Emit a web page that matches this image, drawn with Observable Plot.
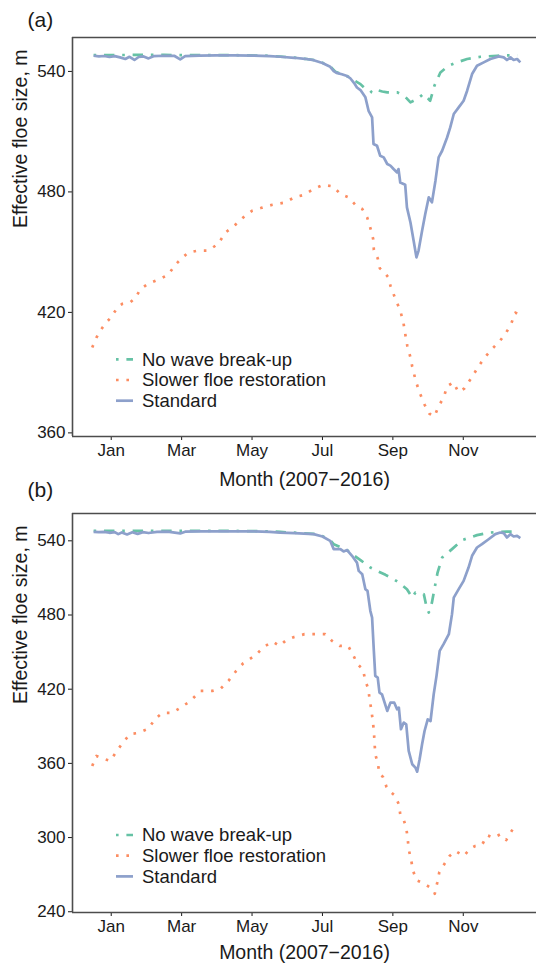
<!DOCTYPE html>
<html>
<head>
<meta charset="utf-8">
<script src="https://cdn.jsdelivr.net/npm/d3@7"></script>
<script src="https://cdn.jsdelivr.net/npm/@observablehq/plot@0.6"></script>
<style>
  html, body { margin: 0; padding: 0; background: #fff; }
  #chart { width: 536px; height: 964px; overflow: hidden; }
  #chart svg { display: block; }
  #chart svg text { font-family: "Liberation Sans", Arial, sans-serif !important; }
</style>
</head>
<body>
<div id="chart"></div>
<script>
// Month axis: x is measured in months (1 = Jan tick, 3 = Mar tick, ...)
const monthTicks = [1, 3, 5, 7, 9, 11];
const monthNames = ["Jan", "Mar", "May", "Jul", "Sep", "Nov"];

const seriesNames = ["No wave break-up", "Slower floe restoration", "Standard"];
const seriesColors = ["#66c2a5", "#fc8d62", "#8da0cb"];

const ticksA = [360, 420, 480, 540];
const ticksB = [240, 300, 360, 420, 480, 540];

// Panel (a): effective floe size [month, metres]
const noWaveA = [
  [0.50,548.1],[1.50,548.2],[2.50,548.2],[3.50,548.1],[4.50,548.1],[5.50,547.8],[5.80,547.4],
  [6.20,546.9],[6.50,546.3],[6.75,545.7],[7.00,544.3],[7.22,542.5],[7.37,539.8],[7.65,538.0],
  [7.79,537.0],[7.90,535.5],[8.08,533.7],[8.20,531.6],[8.31,531.2],[8.40,529.6],[8.45,529.2],
  [8.55,530.7],[8.70,530.0],[8.84,529.6],[9.12,529.6],[9.26,528.4],[9.40,526.5],[9.50,524.6],
  [9.69,526.3],[9.87,528.8],[10.06,525.4],[10.18,532.9],[10.35,539.5],[10.58,542.8],[10.82,544.5],
  [11.11,546.2],[11.49,547.3],[11.96,547.8],[12.20,548.0],[12.54,548.1]
];
const slowerA = [
  [0.46,402.5],[0.58,407.4],[0.69,411.0],[0.86,415.0],[0.97,417.0],[1.20,423.0],[1.32,424.3],
  [1.54,425.0],[1.69,427.3],[1.83,431.6],[2.05,434.3],[2.40,436.8],[2.62,438.8],[2.82,443.7],
  [3.02,447.3],[3.19,449.8],[3.47,450.8],[3.76,450.8],[4.04,454.2],[4.24,459.7],[4.53,463.7],
  [4.81,468.2],[5.01,470.7],[5.29,472.2],[5.58,473.6],[5.95,474.8],[6.20,477.3],[6.49,478.6],
  [6.75,481.5],[7.02,483.5],[7.29,482.8],[7.51,479.0],[7.74,477.3],[7.96,473.1],[8.13,471.5],
  [8.27,467.3],[8.36,462.1],[8.44,456.6],[8.46,451.1],[8.57,446.9],[8.63,442.0],[8.74,440.3],
  [8.88,437.2],[8.93,433.3],[9.07,426.8],[9.21,420.9],[9.30,414.9],[9.36,408.4],[9.41,403.4],
  [9.50,397.5],[9.55,393.0],[9.65,386.0],[9.75,380.5],[9.90,374.1],[10.04,369.5],[10.18,368.2],
  [10.30,373.3],[10.45,377.9],[10.54,383.2],[10.72,385.2],[10.86,380.4],[11.03,382.1],[11.26,388.1],
  [11.43,393.1],[11.63,398.0],[11.83,402.0],[12.05,406.0],[12.20,409.5],[12.34,413.4],[12.48,419.9],
  [12.62,418.4]
];
const standardA = [
  [0.50,547.8],[0.65,547.5],[0.80,547.7],[0.95,547.2],[1.10,547.6],[1.25,547.0],[1.40,546.2],
  [1.52,547.3],[1.66,545.7],[1.78,547.2],[1.92,547.5],[2.06,546.5],[2.20,547.6],[2.50,547.8],
  [2.80,547.7],[2.96,546.0],[3.10,547.6],[3.50,547.9],[4.00,548.0],[4.50,548.0],[5.00,547.9],
  [5.50,547.6],[5.80,547.3],[6.20,546.8],[6.50,546.3],[6.75,545.6],[7.00,544.2],[7.22,542.3],
  [7.32,540.2],[7.40,539.3],[7.55,538.6],[7.70,537.7],[7.79,536.6],[7.90,534.2],[7.98,532.0],
  [8.08,530.7],[8.22,527.1],[8.31,520.4],[8.41,517.1],[8.45,503.9],[8.55,503.0],[8.64,498.0],
  [8.74,497.2],[8.84,493.9],[8.93,493.1],[9.02,491.4],[9.12,489.7],[9.16,491.4],[9.21,484.7],
  [9.35,483.6],[9.40,472.3],[9.50,464.8],[9.59,455.7],[9.67,447.4],[9.73,450.8],[9.83,460.7],
  [9.92,469.0],[10.02,477.3],[10.11,474.8],[10.21,485.6],[10.30,497.2],[10.40,500.5],[10.54,507.1],
  [10.63,512.1],[10.73,518.8],[10.87,522.1],[11.01,525.4],[11.11,530.4],[11.25,538.7],[11.39,542.8],
  [11.58,544.5],[11.77,546.2],[12.01,547.5],[12.15,547.0],[12.24,545.7],[12.34,547.0],[12.43,545.7],
  [12.53,546.2],[12.62,544.5]
];

// Panel (b)
const noWaveB = [
  [0.50,548.0],[1.50,548.1],[2.50,548.1],[3.50,548.0],[4.50,548.0],[5.50,547.7],[5.80,547.2],
  [6.20,546.6],[6.75,545.6],[7.00,543.8],[7.22,540.5],[7.32,537.3],[7.70,532.5],[7.84,529.2],
  [8.08,524.4],[8.36,518.4],[8.55,515.7],[8.79,512.5],[9.02,509.0],[9.17,506.3],[9.40,500.9],
  [9.55,494.1],[9.64,498.2],[9.88,496.8],[9.94,488.7],[10.02,482.0],[10.11,490.1],[10.18,500.9],
  [10.27,514.3],[10.40,526.5],[10.68,533.3],[10.97,540.6],[11.39,544.6],[11.77,546.7],[12.24,547.5],
  [12.57,547.5]
];
const slowerB = [
  [0.46,357.9],[0.58,366.0],[0.75,364.0],[0.97,362.0],[1.20,371.7],[1.37,378.2],[1.54,383.8],
  [1.77,384.6],[2.05,387.9],[2.25,396.0],[2.45,400.8],[2.73,400.8],[2.96,404.9],[3.25,410.5],
  [3.53,418.6],[3.87,418.6],[4.10,420.2],[4.33,426.7],[4.55,434.8],[4.75,441.0],[4.90,443.7],
  [5.11,447.7],[5.33,454.2],[5.59,458.5],[5.78,455.0],[5.97,459.6],[6.20,462.3],[6.49,464.5],
  [6.80,464.5],[7.08,464.5],[7.27,459.1],[7.49,455.0],[7.73,455.0],[7.87,447.7],[8.00,440.2],
  [8.15,436.1],[8.22,426.7],[8.30,420.5],[8.34,411.9],[8.39,403.0],[8.43,394.3],[8.46,386.2],
  [8.48,376.8],[8.50,367.4],[8.57,360.6],[8.62,351.7],[8.72,349.0],[8.82,340.9],[8.90,337.6],
  [9.05,334.2],[9.17,326.9],[9.21,318.8],[9.31,314.2],[9.38,308.0],[9.42,299.4],[9.45,290.5],
  [9.52,281.8],[9.57,273.5],[9.67,265.4],[9.83,263.5],[10.04,260.0],[10.19,254.6],[10.26,263.5],
  [10.32,272.1],[10.46,278.4],[10.61,285.1],[10.78,289.1],[11.01,285.1],[11.20,291.0],[11.34,293.2],
  [11.53,294.0],[11.68,301.8],[11.86,299.9],[12.05,302.6],[12.22,298.0],[12.36,304.8],[12.48,310.0]
];
const standardB = [
  [0.50,547.3],[0.65,547.0],[0.80,547.2],[0.95,546.5],[1.10,547.1],[1.20,545.4],[1.30,546.8],
  [1.45,545.2],[1.60,546.9],[1.75,545.6],[1.90,547.0],[2.06,546.3],[2.30,547.2],[2.60,547.4],
  [2.96,546.0],[3.10,547.4],[3.50,547.6],[4.00,547.7],[4.50,547.7],[5.00,547.6],[5.50,547.3],
  [5.80,546.7],[6.20,546.2],[6.75,545.4],[7.00,543.5],[7.22,540.0],[7.32,533.3],[7.51,533.3],
  [7.60,531.4],[7.70,532.5],[7.84,527.9],[7.98,522.4],[8.03,515.7],[8.13,513.0],[8.22,500.9],
  [8.28,499.5],[8.36,483.4],[8.41,477.9],[8.46,451.0],[8.50,430.8],[8.57,429.4],[8.62,417.2],
  [8.69,415.9],[8.84,402.4],[8.93,409.1],[9.04,409.1],[9.12,403.8],[9.17,405.1],[9.23,387.6],
  [9.31,393.0],[9.38,391.6],[9.45,370.1],[9.55,359.3],[9.64,356.6],[9.69,353.3],[9.76,363.3],
  [9.83,375.5],[9.90,386.2],[9.99,395.6],[10.07,394.3],[10.16,415.9],[10.24,430.8],[10.33,451.0],
  [10.44,456.4],[10.59,464.5],[10.68,480.7],[10.73,494.1],[10.87,500.9],[11.01,507.6],[11.15,518.4],
  [11.25,527.9],[11.39,534.6],[11.53,537.3],[11.72,541.3],[11.91,545.4],[12.05,546.7],[12.15,546.2],
  [12.24,542.7],[12.34,545.4],[12.43,543.5],[12.53,544.0],[12.62,542.2]
];

const xDomain = [-0.1, 13.08];
const FONT = "Liberation Sans, Arial, sans-serif";
const LINE_W = 2.7;
const dashes = ["2.6,7.8,10.4,7.8", "2.6,7.8", null];
const frameColor = "#4d4d4d";
const ink = "#1a1a1a";

function panel({tag, tagOffset, titleOffset, series, yDomain, yTicks, height, marginTop, marginBottom}) {
  const lineMarks = series.map((data, i) => Plot.line(data, {
    x: d => d[0], y: d => d[1],
    stroke: seriesColors[i],
    strokeWidth: LINE_W,
    strokeDasharray: dashes[i] ?? undefined,
    strokeLinejoin: "round",
    strokeLinecap: "butt"
  }));
  return Plot.plot({
    width: 536, height, marginTop, marginBottom, marginLeft: 72, marginRight: 0,
    style: {fontFamily: FONT, fontSize: "17px", color: ink, background: "#fff", overflow: "visible"},
    x: {domain: xDomain, ticks: monthTicks, tickFormat: d => monthNames[monthTicks.indexOf(d)], tickSize: 4, tickPadding: 3, label: null},
    y: {domain: yDomain, ticks: yTicks, tickSize: 4, tickPadding: 3, label: null},
    marks: [
      ...lineMarks,
      Plot.ruleY([yDomain[0], yDomain[1]], {stroke: frameColor, strokeWidth: 1.6}),
      Plot.ruleX([xDomain[0]], {stroke: frameColor, strokeWidth: 1.6}),
      Plot.text(["Effective floe size, m"], {frameAnchor: "left", lineAnchor: "middle", rotate: -90, dx: -52, dy: -9, fontSize: 19.5, fill: ink}),
      Plot.text(["Month (2007\u22122016)"], {frameAnchor: "bottom", lineAnchor: "middle", dy: titleOffset, fontSize: 19.5, fill: ink}),
      Plot.text([tag], {frameAnchor: "top-left", lineAnchor: "middle", textAnchor: "start", dx: -45, dy: tagOffset, fontSize: 21, fill: ink})
    ]
  });
}

function addLegend(svg, top) {
  const g = d3.select(svg).append("g")
    .attr("font-size", 18.5).attr("fill", ink).attr("text-anchor", "start");
  seriesNames.forEach((name, i) => {
    const y = top + i * 20.7;
    g.append("line")
      .attr("x1", 116).attr("x2", 133).attr("y1", y).attr("y2", y)
      .attr("stroke", seriesColors[i]).attr("stroke-width", LINE_W)
      .attr("stroke-dasharray", dashes[i] ?? null);
    g.append("text").attr("x", 142).attr("y", y).attr("dy", "0.35em").text(name);
  });
}

const chart = document.getElementById("chart");
const svgA = panel({tag: "(a)", tagOffset: -17, titleOffset: 43, series: [noWaveA, slowerA, standardA], yDomain: [358.2, 556.9], yTicks: ticksA,
  height: 482, marginTop: 37, marginBottom: 46});
addLegend(svgA, 359.3);
chart.appendChild(svgA);
const svgB = panel({tag: "(b)", tagOffset: -23, titleOffset: 40, series: [noWaveB, slowerB, standardB], yDomain: [239.4, 562.1], yTicks: ticksB,
  height: 482, marginTop: 31, marginBottom: 52});
addLegend(svgB, 835 - 482);
chart.appendChild(svgB);
</script>
</body>
</html>
